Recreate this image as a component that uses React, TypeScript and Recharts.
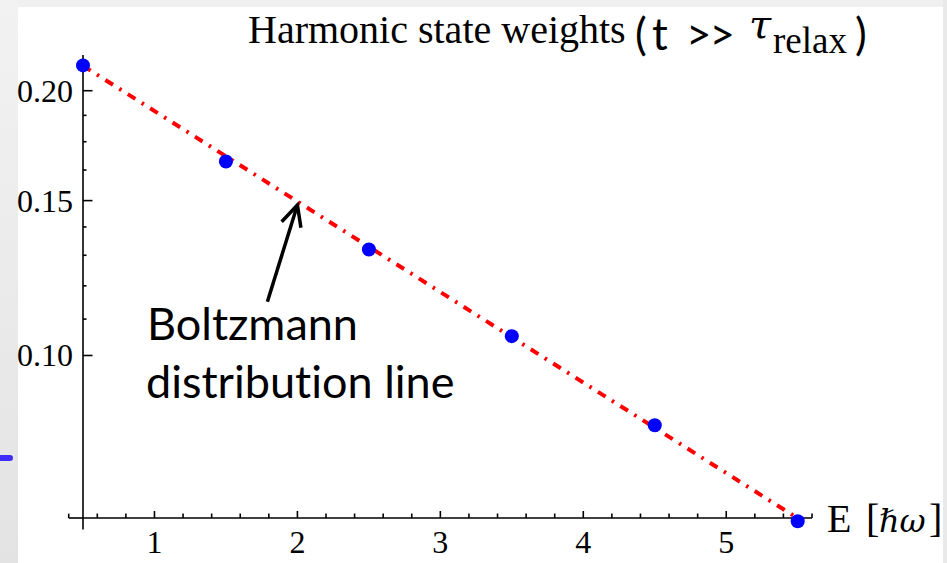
import React from 'react';
import { ComposedChart, Line, XAxis, YAxis, ReferenceLine } from 'recharts';

// ---- data ----
const energies = [0.5, 1.5, 2.5, 3.5, 4.5, 5.5];
const weights = [0.2137, 0.1662, 0.132, 0.1052, 0.0833, 0.0648];
const boltzmannEnds = [0.2135, 0.0653]; // Boltzmann line values at first and last energy

// axis ticks
const xTicks = [0.6, 0.8, 1, 1.2, 1.4, 1.6, 1.8, 2, 2.2, 2.4, 2.6, 2.8, 3, 3.2, 3.4, 3.6, 3.8, 4, 4.2, 4.4, 4.6, 4.8, 5, 5.2, 5.4, 5.6];
const xMajor = [1, 2, 3, 4, 5];
const yTicks = [0.11, 0.12, 0.13, 0.14, 0.1625, 0.175, 0.1875, 0.1, 0.15, 0.2];
const yMajor = [0.1, 0.15, 0.2];
const yMajorLabels = ['0.10', '0.15', '0.20'];
const xDomain = [0.5, 5.6];
const yDomain = [0.06535, 0.2196];
// axis extensions beyond the frame (Mathematica-style crossing axes)
const xAxisLeftEnd = 0.4;
const yAxisLowEnd = 0.0634;
const xLeftTickTop = 0.0661;

// annotation arrow (data coordinates)
const arrowTail = { E: 1.79, w: 0.1151 };
const arrowTip = { E: 2.0, w: 0.1483 };

const data = energies.map((E, i) => ({
  E,
  w: weights[i],
  b: i === 0 ? boltzmannEnds[0] : i === energies.length - 1 ? boltzmannEnds[1] : null,
}));

const SERIF = "'Liberation Serif', 'Times New Roman', 'DejaVu Serif', serif";
const SANS = "Lato, 'Open Sans', 'Liberation Sans', sans-serif";

const XTick = (props: any) => {
  const { x, y, payload } = props;
  const v = payload.value;
  const major = xMajor.includes(v);
  return (
    <g>
      <line x1={x} y1={y} x2={x} y2={y - (major ? 7 : 4.5)} stroke="#000" strokeWidth={1.6} />
      {major && (
        <text x={x} y={y + 35} textAnchor="middle" fontFamily={SERIF} fontSize={32} fill="#000">
          {v}
        </text>
      )}
    </g>
  );
};

const YTick = (props: any) => {
  const { x, y, payload } = props;
  const v = payload.value;
  const idx = yMajor.indexOf(v);
  const major = idx >= 0;
  return (
    <g>
      <line x1={x} y1={y} x2={x + (major ? 9.5 : 3.5)} y2={y} stroke="#000" strokeWidth={1.6} />
      {major && (
        <text x={x - 10} y={y + 11} textAnchor="end" fontFamily={SERIF} fontSize={32} fill="#000">
          {yMajorLabels[idx]}
        </text>
      )}
    </g>
  );
};

const ArrowShape = (props: any) => {
  const { x1, y1, x2, y2 } = props;
  const ang = Math.atan2(y1 - y2, x1 - x2);
  const len = 23;
  const spread = (26 * Math.PI) / 180;
  const ax = x2 + len * Math.cos(ang + spread);
  const ay = y2 + len * Math.sin(ang + spread);
  const bx = x2 + len * Math.cos(ang - spread);
  const by = y2 + len * Math.sin(ang - spread);
  return (
    <g>
      <line x1={x1} y1={y1} x2={x2} y2={y2} stroke="#000" strokeWidth={3.5} />
      <polyline points={`${ax},${ay} ${x2},${y2} ${bx},${by}`} fill="none" stroke="#000" strokeWidth={3.5} strokeLinejoin="miter" />
    </g>
  );
};

const noLig = { fontVariantLigatures: 'none' as const, fontFeatureSettings: '"liga" 0, "clig" 0' };

export default function App() {
  return (
    <div style={{ position: 'absolute', left: 0, top: 0, width: 947, height: 563, background: '#f0f0f0', overflow: 'hidden' }}>
      <div style={{ position: 'absolute', left: 0, top: 0, width: 18, height: 563, background: 'linear-gradient(#f2f2f2, #e3e3e3)' }} />
      <div style={{ position: 'absolute', left: 18, top: 7, width: 925, height: 556, background: '#ffffff' }} />
      <div style={{ position: 'absolute', left: 943, top: 0, width: 4, height: 563, background: '#e9e9e9' }} />
      <div style={{ position: 'absolute', left: 0, top: 455, width: 13, height: 6, background: '#3f2dff', borderRadius: '0 3px 3px 0' }} />

      <div style={{ position: 'absolute', left: 0, top: 0 }}>
        <ComposedChart width={947} height={563} data={data} margin={{ top: 55, right: 135, bottom: 15, left: 23 }}>
          <XAxis
            dataKey="E"
            type="number"
            domain={xDomain}
            ticks={xTicks}
            interval={0}
            tickSize={0}
            tickMargin={0}
            tick={XTick}
            tickLine={false}
            axisLine={{ stroke: '#000', strokeWidth: 1.6 }}
            height={30}
          />
          <YAxis
            type="number"
            scale="log"
            domain={yDomain}
            allowDataOverflow
            ticks={yTicks}
            interval={0}
            tickSize={0}
            tickMargin={0}
            tick={YTick}
            tickLine={false}
            axisLine={{ stroke: '#000', strokeWidth: 1.6 }}
            width={60}
          />
          <ReferenceLine
            segment={[{ x: xAxisLeftEnd, y: yDomain[0] }, { x: xDomain[0], y: yDomain[0] }]}
            ifOverflow="visible"
            stroke="#000"
            strokeWidth={1.6}
          />
          <ReferenceLine
            segment={[{ x: xAxisLeftEnd, y: yDomain[0] }, { x: xAxisLeftEnd, y: xLeftTickTop }]}
            ifOverflow="visible"
            stroke="#000"
            strokeWidth={1.6}
          />
          <ReferenceLine
            segment={[{ x: xDomain[0], y: yAxisLowEnd }, { x: xDomain[0], y: yDomain[0] }]}
            ifOverflow="visible"
            stroke="#000"
            strokeWidth={1.6}
          />
          <Line
            dataKey="w"
            stroke="none"
            dot={{ r: 7, fill: '#0000ff', stroke: 'none', strokeWidth: 14, clipDot: false }}
            activeDot={false}
            isAnimationActive={false}
          />
          <Line
            dataKey="b"
            connectNulls
            stroke="#ff0000"
            strokeWidth={4}
            strokeDasharray="9 7.5 2.5 7.5"
            dot={false}
            activeDot={false}
            isAnimationActive={false}
          />
          <ReferenceLine
            segment={[{ x: arrowTail.E, y: arrowTail.w }, { x: arrowTip.E, y: arrowTip.w }]}
            ifOverflow="visible"
            shape={ArrowShape}
          />
        </ComposedChart>
      </div>

      <svg width={947} height={563} style={{ position: 'absolute', left: 0, top: 0, pointerEvents: 'none' }}>
        <text x={248} y={43} fontFamily={SERIF} fontSize={40} fill="#000">Harmonic state weights</text>
        <text x={635} y={50} fontFamily={SANS} fontSize={44} fill="#000">(</text>
        <text x={652} y={50} fontFamily={SANS} fontSize={44} fill="#000">t</text>
        <text x={686} y={50} fontFamily={SANS} fontSize={44} fill="#000" letterSpacing={-2}>&gt;&gt;</text>
        <text x={749} y={38} fontFamily="'DejaVu Serif', serif" fontStyle="italic" fontSize={40} fill="#000">τ</text>
        <text x={773} y={53} fontFamily={SERIF} fontSize={37} fill="#000">relax</text>
        <text x={855} y={50} fontFamily={SANS} fontSize={44} fill="#000">)</text>

        <text x={147} y={340} fontFamily={SANS} fontSize={45} fill="#000" style={noLig}>Boltzmann</text>
        <text x={146} y={398} fontFamily={SANS} fontSize={45} fill="#000" style={noLig}>distribution line</text>

        <text y={532} fontFamily={SERIF} fontSize={40} fill="#000">
          <tspan x={827}>E</tspan>
          <tspan x={866}>[</tspan>
          <tspan x={879} fontStyle="italic" fontFamily="'DejaVu Serif', serif" fontSize={32}>ℏω</tspan>
          <tspan x={929}>]</tspan>
        </text>
      </svg>
    </div>
  );
}
